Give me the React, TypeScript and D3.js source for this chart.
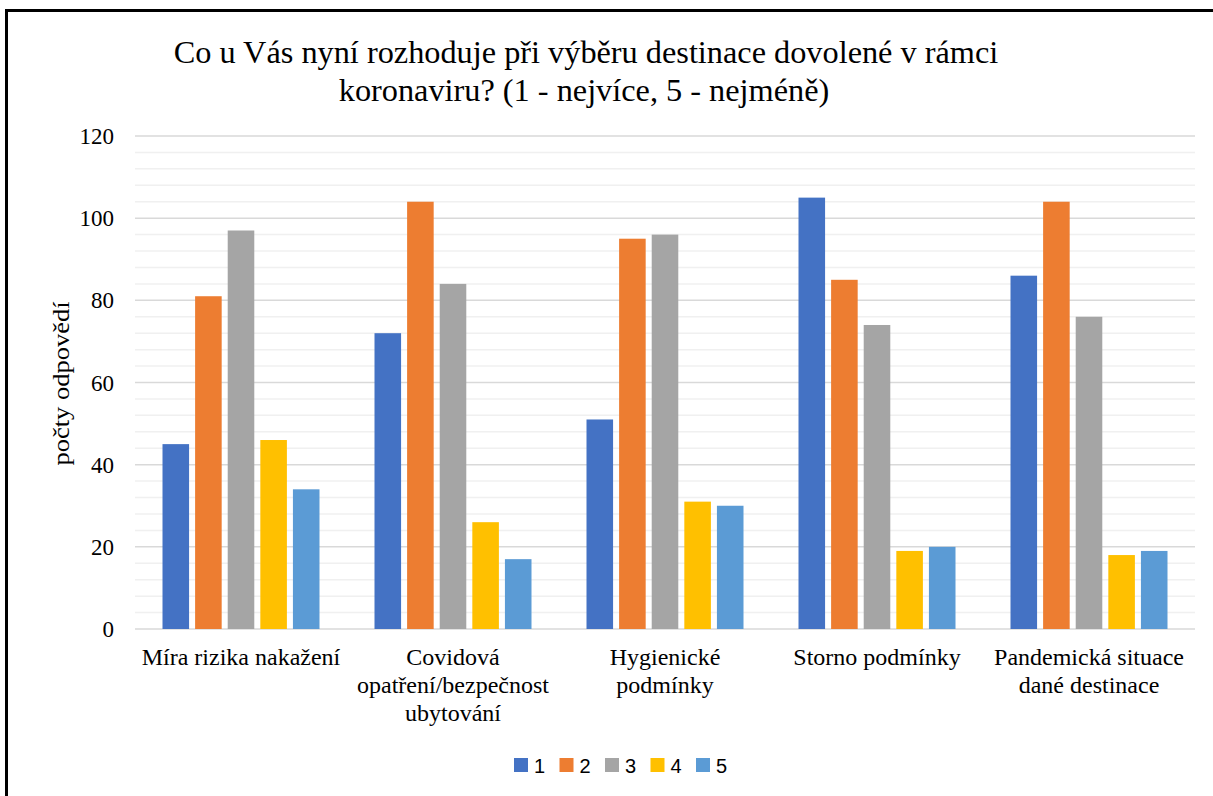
import React from "react";
import * as d3 from "d3";

// chart data
const categories: string[][] = [
  ["Míra rizika nakažení"],
  ["Covidová", "opatření/bezpečnost", "ubytování"],
  ["Hygienické", "podmínky"],
  ["Storno podmínky"],
  ["Pandemická situace", "dané destinace"],
];
const seriesNames = ["1", "2", "3", "4", "5"];
const seriesColors = ["#4472C4", "#ED7D31", "#A5A5A5", "#FFC000", "#5B9BD5"];
const values1 = [45, 72, 51, 105, 86];
const values2 = [81, 104, 95, 85, 104];
const values3 = [97, 84, 96, 74, 76];
const values4 = [46, 26, 31, 19, 18];
const values5 = [34, 17, 30, 20, 19];
const allSeries = [values1, values2, values3, values4, values5];
const majorTicks = [0, 20, 40, 60, 80, 100, 120];

const W = 1213;
const H = 796;

const serif = { fontFamily: "Liberation Serif" };
const sans = { fontFamily: "Liberation Sans" };

export default function App() {
  const margin = { left: 135, right: 1195, top: 136, bottom: 629 };
  const catKeys = categories.map((_, i) => String(i));

  const x0 = d3.scaleBand<string>().domain(catKeys).range([margin.left, margin.right]);
  const x1 = d3
    .scaleBand<string>()
    .domain(seriesNames)
    .range([27.5, x0.bandwidth() - 27.5])
    .paddingInner(0.185);
  const y = d3.scaleLinear().domain([0, 120]).range([margin.bottom, margin.top]);

  const minorTicks = d3.range(0, 121, 4).filter((v) => v % 20 !== 0);

  return (
    <svg
      width={W}
      height={H}
      style={{ position: "absolute", left: 0, top: 0, background: "#fff" }}
    >
      <rect x={0} y={0} width={W} height={H} fill="#fff" />
      {/* frame */}
      <path d={`M6.5,${H} V10.5 H${W}`} fill="none" stroke="#000" strokeWidth={3} />

      {/* title */}
      <text x={586} y={63} textAnchor="middle" style={serif} fontSize={32.3} fill="#000">
        Co u Vás nyní rozhoduje při výběru destinace dovolené v rámci
      </text>
      <text x={584} y={101} textAnchor="middle" style={serif} fontSize={32.3} fill="#000">
        koronaviru? (1 - nejvíce, 5 - nejméně)
      </text>

      {/* gridlines */}
      {minorTicks.map((t) => (
        <line
          key={"m" + t}
          x1={margin.left}
          x2={margin.right}
          y1={y(t)}
          y2={y(t)}
          stroke="#f0f0f0"
          strokeWidth={1.5}
        />
      ))}
      {majorTicks.map((t) => (
        <line
          key={"g" + t}
          x1={margin.left}
          x2={margin.right}
          y1={y(t)}
          y2={y(t)}
          stroke="#d9d9d9"
          strokeWidth={1.5}
        />
      ))}

      {/* y tick labels */}
      {majorTicks.map((t) => (
        <text
          key={"t" + t}
          x={114}
          y={y(t) + 8}
          textAnchor="end"
          style={serif}
          fontSize={23}
          fill="#000"
        >
          {t}
        </text>
      ))}

      {/* y axis title */}
      <text
        transform={`translate(69, ${(margin.top + margin.bottom) / 2 + 1}) rotate(-90)`}
        textAnchor="middle"
        style={serif}
        fontSize={23}
        textLength={164}
        lengthAdjust="spacingAndGlyphs"
        fill="#000"
      >
        počty odpovědí
      </text>

      {/* bars */}
      {catKeys.map((c, ci) => (
        <g key={c} transform={`translate(${x0(c)},0)`}>
          {seriesNames.map((s, si) => {
            const v = allSeries[si][ci];
            return (
              <rect
                key={s}
                x={x1(s)}
                y={y(v)}
                width={x1.bandwidth()}
                height={y(0) - y(v)}
                fill={seriesColors[si]}
              />
            );
          })}
        </g>
      ))}

      {/* category labels */}
      {categories.map((lines, ci) => {
        const cx = (x0(String(ci)) as number) + x0.bandwidth() / 2;
        return (
          <text key={"c" + ci} x={cx} y={665} textAnchor="middle" style={serif} fontSize={24} fill="#000">
            {lines.map((ln, li) => (
              <tspan key={li} x={cx} dy={li === 0 ? 0 : 27.8}>
                {ln}
              </tspan>
            ))}
          </text>
        );
      })}

      {/* legend */}
      {seriesNames.map((s, i) => (
        <g key={"l" + s} transform={`translate(${514 + i * 45.5}, 758)`}>
          <rect x={0} y={0} width={14} height={14} fill={seriesColors[i]} />
          <text x={20} y={14.5} style={sans} fontSize={20} fill="#000">
            {s}
          </text>
        </g>
      ))}
    </svg>
  );
}
